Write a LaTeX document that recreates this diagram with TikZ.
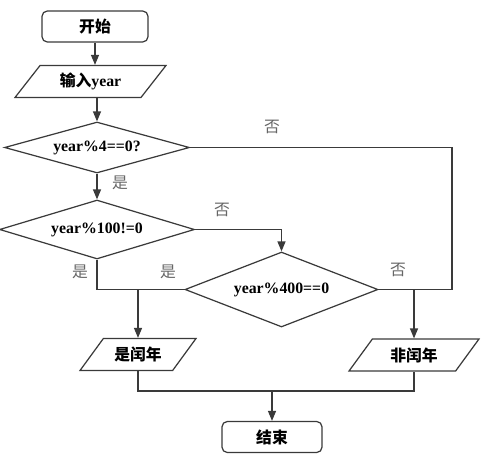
\documentclass[tikz,border=0pt]{standalone}
\usepackage{fontspec}
\setmainfont{Liberation Serif}
\newfontfamily\cjk{Noto Sans CJK SC}
\usetikzlibrary{positioning, arrows.meta, shapes.geometric}
\definecolor{flowline}{HTML}{3A3A3A}
\definecolor{flowlabel}{HTML}{666666}

\begin{document}
\begin{tikzpicture}[
  x=0.02cm, y=-0.02cm,
  every node/.style={font=\bfseries\fontsize{9}{10}\selectfont},
  terminal/.style={draw=flowline, line width=0.7pt, rounded corners=3pt,
    minimum width=2.12cm, minimum height=0.62cm},
  io/.style={draw=flowline, line width=0.7pt, trapezium, trapezium stretches body,
    trapezium left angle=49, trapezium right angle=131, minimum height=0.64cm},
  decision/.style={draw=flowline, line width=0.7pt, diamond, aspect=3.6, inner sep=0pt},
  tag/.style={font=\cjk\fontsize{9}{10}\selectfont, text=flowlabel},
  >={Triangle[length=2mm,width=1.6mm]}
]
  \useasboundingbox (0,0) rectangle (500,463);

  \node[terminal] (start) at (95,26.5) {\cjk 开始};
  \node[io, minimum width=3.02cm] (input) at (90.5,81.5) {{\cjk 输入}year};
  \node[decision, minimum width=3.7cm, minimum height=1.02cm] (mod4) at (97,147.5) {year\%4==0?};
  \node[decision, minimum width=3.9cm, minimum height=1.18cm] (mod100) at (97,229.5) {year\%100!=0};
  \node[decision, minimum width=3.86cm, minimum height=1.5cm] (mod400) at (281.5,289.5) {year\%400==0};
  \node[io, minimum width=2.32cm] (leap) at (138,354.5) {\cjk 是闰年};
  \node[io, minimum width=2.6cm] (common) at (414,355) {\cjk 非闰年};
  \node[terminal, minimum width=2cm] (stop) at (272,437) {\cjk 结束};

  \coordinate (rjoin) at (452,289.5);
  \coordinate (bjoin) at (272,391);

  % branch labels
  \node[tag] (yes4) at (120,183) {是};
  \node[tag] (no4) at (272,127) {否};
  \node[tag] (no100) at (222,210) {否};
  \node[tag] (yes100) at (80,272) {是};
  \node[tag] (yes400) at (168,272) {是};
  \node[tag] (no400) at (398,270) {否};

  \draw[flowline, line width=0.7pt] (mod4.east) -| (rjoin) -- (mod400.east);
  \draw[flowline, line width=0.7pt] (mod100.south) |- (mod400.west);
  \draw[flowline, line width=0.7pt] (leap.south) |- (bjoin) -| (common.south);

  \draw[->, flowline, line width=0.7pt] (start.south) -- (start.south |- input.north);
  \draw[->, flowline, line width=0.7pt] (mod4.north |- input.south) -- (mod4.north);
  \draw[->, flowline, line width=0.7pt] (mod4.south) -- (mod100.north);
  \draw[->, flowline, line width=0.7pt] (mod100.east) -| (mod400.north);
  \draw[->, flowline, line width=0.7pt] (leap.north |- mod400.west) -- (leap.north);
  \draw[->, flowline, line width=0.7pt] (common.north |- mod400.east) -- (common.north);
  \draw[->, flowline, line width=0.7pt] (bjoin) -- (stop.north);
\end{tikzpicture}
\end{document}
